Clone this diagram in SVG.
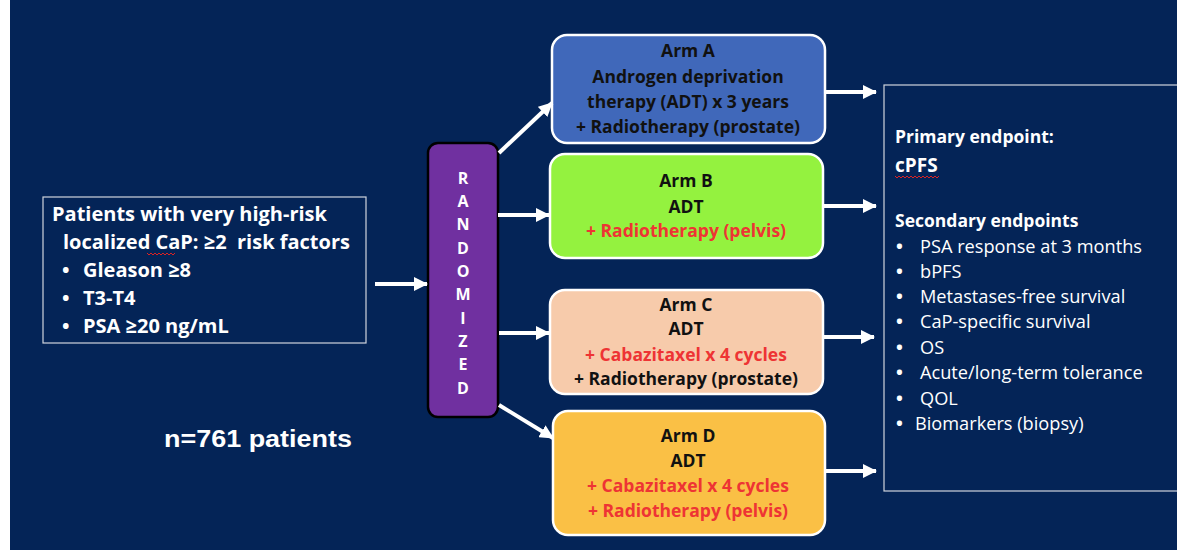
<svg xmlns="http://www.w3.org/2000/svg" width="1177" height="550" viewBox="0 0 1177 550">
<defs>
<marker id="ah" viewBox="0 0 14 14" refX="13" refY="7" markerWidth="14" markerHeight="14" markerUnits="userSpaceOnUse" orient="auto">
<path d="M0,0 L14,7 L0,14 Z" fill="#ffffff"/>
</marker>
<style>
.bg{fill:#042457}
.arm{stroke:#ffffff;stroke-width:2.5}
.t{font-family:"Open Sans",Lato,"Liberation Sans",sans-serif;font-weight:bold;font-size:17.5px;fill:#111111;text-anchor:middle}
.red{fill:#EE3434}
.w{font-family:"Open Sans",Lato,"Liberation Sans",sans-serif;fill:#ffffff}
.wb{font-weight:bold}
.b{font-weight:bold}
.conn line{stroke:#ffffff;stroke-width:4;marker-end:url(#ah)}
.sq{fill:none;stroke:#d22;stroke-width:1}
</style>
</defs>
<rect x="0" y="0" width="1177" height="550" fill="#ffffff"/>
<rect class="bg" x="10" y="0" width="1167" height="550"/>

<g id="patients">
<rect x="43" y="197" width="323" height="146" fill="none" stroke="#d0d4dc" stroke-width="1.2"/>
<g class="w wb" font-size="20">
<text x="52" y="221">Patients with very high-risk</text>
<text x="63" y="249" xml:space="preserve">localized CaP: ≥2  risk factors</text>
<text x="62" y="277">•<tspan x="83">Gleason ≥8</tspan></text>
<text x="62" y="305">•<tspan x="83">T3-T4</tspan></text>
<text x="62" y="333">•<tspan x="83">PSA ≥20 ng/mL</tspan></text>
</g>
<path class="sq" d="M147,253 l2,2 l2,-2 l2,2 l2,-2 l2,2 l2,-2 l2,2 l2,-2 l2,2 l2,-2 l2,2 l2,-2 l2,2 l2,-2"/>
</g>

<g id="n-patients">
<text x="164" y="447" font-family="'Liberation Sans',Arial,sans-serif" font-weight="bold" font-size="24" fill="#ffffff" textLength="188" lengthAdjust="spacingAndGlyphs">n=761 patients</text>
</g>

<g id="randomized">
<rect x="428" y="143" width="70" height="274" rx="10" fill="#7030A0" stroke="#000000" stroke-width="2.5"/>
<g class="w wb" font-size="16" text-anchor="middle">
<text x="463" y="184">R</text>
<text x="463" y="207">A</text>
<text x="463" y="230">N</text>
<text x="463" y="254">D</text>
<text x="463" y="277">O</text>
<text x="463" y="300">M</text>
<text x="463" y="324">I</text>
<text x="463" y="347">Z</text>
<text x="463" y="370">E</text>
<text x="463" y="394">D</text>
</g>
</g>

<g id="armA">
<rect class="arm" x="552" y="35" width="273" height="108" rx="15" fill="#4068BA"/>
<text class="t" x="688" y="57">Arm A</text>
<text class="t" x="688" y="83">Androgen deprivation</text>
<text class="t" x="688" y="108">therapy (ADT) x 3 years</text>
<text class="t" x="688" y="133">+ Radiotherapy (prostate)</text>
</g>

<g id="armB">
<rect class="arm" x="550" y="154" width="273" height="104" rx="15" fill="#94F23F"/>
<text class="t" x="686" y="187">Arm B</text>
<text class="t" x="686" y="213">ADT</text>
<text class="t red" x="686" y="237">+ Radiotherapy (pelvis)</text>
</g>

<g id="armC">
<rect class="arm" x="550" y="290" width="273" height="104" rx="15" fill="#F7CBAB"/>
<text class="t" x="686" y="311">Arm C</text>
<text class="t" x="686" y="335">ADT</text>
<text class="t red" x="686" y="361">+ Cabazitaxel x 4 cycles</text>
<text class="t" x="686" y="385">+ Radiotherapy (prostate)</text>
</g>

<g id="armD">
<rect class="arm" x="553" y="411" width="272" height="124" rx="15" fill="#FAC045"/>
<text class="t" x="688" y="442">Arm D</text>
<text class="t" x="688" y="467">ADT</text>
<text class="t red" x="688" y="492">+ Cabazitaxel x 4 cycles</text>
<text class="t red" x="688" y="517">+ Radiotherapy (pelvis)</text>
</g>

<g id="endpoints">
<rect x="884" y="85" width="300" height="406" fill="none" stroke="#d0d4dc" stroke-width="1.2"/>
<g class="w">
<text class="wb" x="895" y="143" font-size="17.5">Primary endpoint:</text>
<text class="wb" x="895" y="172" font-size="19">cPFS</text>
<text class="wb" x="895" y="227" font-size="17.5">Secondary endpoints</text>
<g font-size="18.2">
<text x="896" y="253"><tspan class="b">•</tspan><tspan x="920">PSA response at 3 months</tspan></text>
<text x="896" y="278"><tspan class="b">•</tspan><tspan x="920">bPFS</tspan></text>
<text x="896" y="303"><tspan class="b">•</tspan><tspan x="920">Metastases-free survival</tspan></text>
<text x="896" y="328"><tspan class="b">•</tspan><tspan x="920">CaP-specific survival</tspan></text>
<text x="896" y="354"><tspan class="b">•</tspan><tspan x="920">OS</tspan></text>
<text x="896" y="379"><tspan class="b">•</tspan><tspan x="920">Acute/long-term tolerance</tspan></text>
<text x="896" y="405"><tspan class="b">•</tspan><tspan x="920">QOL</tspan></text>
<text x="896" y="430"><tspan class="b">•</tspan><tspan x="915">Biomarkers (biopsy)</tspan></text>
</g>
</g>
<path class="sq" d="M895,176 l2,2 l2,-2 l2,2 l2,-2 l2,2 l2,-2 l2,2 l2,-2 l2,2 l2,-2 l2,2 l2,-2 l2,2 l2,-2 l2,2 l2,-2 l2,2 l2,-2 l2,2 l2,-2 l2,2 l2,-2"/>
</g>

<g id="connectors" class="conn">
<line x1="375" y1="284" x2="427" y2="284"/>
<line x1="499" y1="153" x2="552" y2="103"/>
<line x1="498" y1="215" x2="549" y2="215"/>
<line x1="499" y1="333" x2="549" y2="333"/>
<line x1="499" y1="405" x2="553" y2="438"/>
<line x1="826" y1="92" x2="876" y2="92"/>
<line x1="824" y1="206" x2="876" y2="206"/>
<line x1="824" y1="337" x2="874" y2="337"/>
<line x1="826" y1="471" x2="876" y2="471"/>
</g>
</svg>
